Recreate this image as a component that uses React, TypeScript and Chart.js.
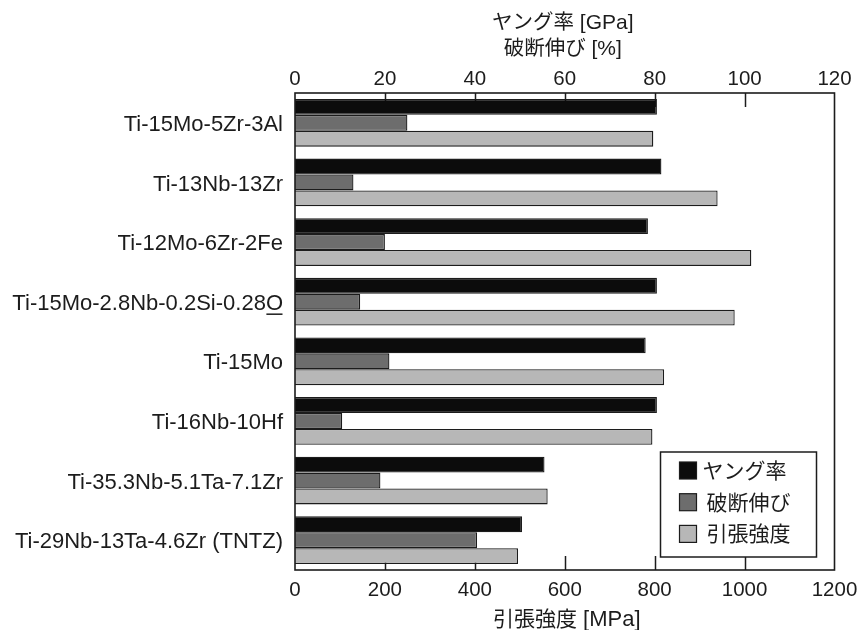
import React, { useEffect, useRef } from 'react';
import { Chart, registerables } from 'chart.js';

Chart.register(...registerables);

// ---- data ----
const alloys = [
  'Ti-15Mo-5Zr-3Al',
  'Ti-13Nb-13Zr',
  'Ti-12Mo-6Zr-2Fe',
  'Ti-15Mo-2.8Nb-0.2Si-0.28O',
  'Ti-15Mo',
  'Ti-16Nb-10Hf',
  'Ti-35.3Nb-5.1Ta-7.1Zr',
  'Ti-29Nb-13Ta-4.6Zr (TNTZ)',
];
const youngModulus = [80.5, 81.5, 78.5, 80.5, 78, 80.5, 55.5, 50.5]; // GPa
const elongation = [25, 13, 20, 14.5, 21, 10.5, 19, 40.5]; // %
const tensileStrength = [797, 940, 1015, 978, 821, 795, 562, 496]; // MPa
const seriesNames = ['ヤング率', '破断伸び', '引張強度'];
const topAxisTitle = ['ヤング率 [GPa]', '破断伸び [%]'];
const bottomAxisTitle = '引張強度 [MPa]';
const topTickStep = 20;
const bottomTickStep = 200;
const topMax = 120;
const bottomMax = 1200;

const colors = ['#0c0c0c', '#6d6d6d', '#b7b7b7'];
const INK = '#1c1c1c';
const SANS = '"Liberation Sans", Arial, sans-serif';
const CJK = '"Noto Sans CJK JP", "Noto Sans CJK SC", sans-serif';
const LABEL_SIZE = 22;

const CJK_RE = /[\u3000-\u30ff\u3400-\u9fff\uff00-\uffef]/;

function splitRuns(text: string) {
  const runs: { t: string; cjk: boolean }[] = [];
  for (const ch of text) {
    const c = CJK_RE.test(ch);
    const last = runs[runs.length - 1];
    if (last && last.cjk === c) last.t += ch;
    else runs.push({ t: ch, cjk: c });
  }
  return runs;
}

function drawMixed(
  ctx: CanvasRenderingContext2D,
  text: string,
  x: number,
  cy: number,
  align: 'center' | 'left',
  cjkSize: number,
  latinSize: number,
  latinFamily: string
) {
  const runs = splitRuns(text);
  const fontOf = (r: { cjk: boolean }) =>
    r.cjk ? `${cjkSize}px ${CJK}` : `${latinSize}px ${latinFamily}`;
  let total = 0;
  const widths = runs.map((r) => {
    ctx.font = fontOf(r);
    const w = ctx.measureText(r.t).width;
    total += w;
    return w;
  });
  let cx = align === 'center' ? x - total / 2 : x;
  const baseline = cy + 0.36 * cjkSize;
  ctx.textBaseline = 'alphabetic';
  ctx.textAlign = 'left';
  runs.forEach((r, i) => {
    ctx.font = fontOf(r);
    ctx.fillText(r.t, cx, baseline);
    cx += widths[i];
  });
}

const decorPlugin = {
  id: 'decor',
  beforeDatasetsDraw(chart: any) {
    const { ctx, chartArea } = chart;
    const top = chart.scales.xTop;
    const bot = chart.scales.xBottom;
    ctx.save();
    ctx.strokeStyle = INK;
    ctx.lineWidth = 1.5;
    ctx.beginPath();
    top.ticks.forEach((t: any) => {
      if (t.value <= 0 || t.value >= topMax) return;
      const px = Math.round(top.getPixelForValue(t.value)) + 0.5;
      ctx.moveTo(px, chartArea.top);
      ctx.lineTo(px, chartArea.top + 14);
    });
    bot.ticks.forEach((t: any) => {
      if (t.value <= 0 || t.value >= bottomMax) return;
      const px = Math.round(bot.getPixelForValue(t.value)) + 0.5;
      ctx.moveTo(px, chartArea.bottom);
      ctx.lineTo(px, chartArea.bottom - 14);
    });
    ctx.stroke();
    ctx.restore();
  },
  afterDatasetsDraw(chart: any) {
    const { ctx, chartArea } = chart;
    ctx.save();
    ctx.strokeStyle = INK;
    ctx.lineWidth = 1.6;
    ctx.strokeRect(
      chartArea.left,
      chartArea.top,
      chartArea.right - chartArea.left,
      chartArea.bottom - chartArea.top
    );
    ctx.restore();
  },
  afterDraw(chart: any) {
    const { ctx, chartArea } = chart;
    const yScale = chart.scales.y;
    const midX = (chartArea.left + chartArea.right) / 2;
    ctx.save();
    ctx.fillStyle = INK;

    // top axis title (two lines)
    drawMixed(ctx, topAxisTitle[0], midX - 2, 21.5, 'center', 20.5, 21, SANS);
    drawMixed(ctx, topAxisTitle[1], midX - 2, 47.5, 'center', 20.5, 21, SANS);
    // bottom axis title
    drawMixed(ctx, bottomAxisTitle, midX + 2, 618.5, 'center', 21, 22, SANS);

    // underline of the final "O" (oxygen) in label index 3
    const idx = alloys.findIndex((a) => a.endsWith('0.28O'));
    if (idx >= 0) {
      ctx.font = `${LABEL_SIZE}px ${SANS}`;
      const w = ctx.measureText('O').width;
      const right = chartArea.left - 12;
      const yPix = yScale.getPixelForTick(idx);
      ctx.strokeStyle = INK;
      ctx.lineWidth = 1.5;
      ctx.beginPath();
      ctx.moveTo(right - w + 0.5, yPix + 12.5);
      ctx.lineTo(right - 0.5, yPix + 12.5);
      ctx.stroke();
    }

    // legend box
    const bx = chartArea.right - 174;
    const by = chartArea.bottom - 118;
    const bw = 156;
    const bh = 105;
    ctx.fillStyle = '#ffffff';
    ctx.fillRect(bx, by, bw, bh);
    ctx.strokeStyle = INK;
    ctx.lineWidth = 1.5;
    ctx.strokeRect(bx, by, bw, bh);
    chart.data.datasets.forEach((ds: any, i: number) => {
      const cy = by + 18.5 + i * 31.7;
      ctx.fillStyle = ds.backgroundColor;
      ctx.fillRect(bx + 19, cy - 8.5, 17, 17);
      ctx.strokeStyle = INK;
      ctx.lineWidth = 1.2;
      ctx.strokeRect(bx + 19, cy - 8.5, 17, 17);
      ctx.fillStyle = INK;
      drawMixed(ctx, ds.label, bx + (i === 0 ? 42 : 46), cy, 'left', 21, 21, SANS);
    });
    ctx.restore();
  },
};

export default function App() {
  const ref = useRef<HTMLCanvasElement>(null);

  useEffect(() => {
    const canvas = ref.current;
    if (!canvas) return;
    const tickFont = { family: SANS, size: 20.5, lineHeight: 1 };
    const plain = (v: any) => String(v);
    const chart = new Chart(canvas, {
      type: 'bar',
      data: {
        labels: alloys,
        datasets: [
          {
            label: seriesNames[0],
            data: youngModulus,
            xAxisID: 'xTop',
            yAxisID: 'y',
            backgroundColor: colors[0],
            borderColor: INK,
            borderWidth: 1.3,
          },
          {
            label: seriesNames[1],
            data: elongation,
            xAxisID: 'xTop',
            yAxisID: 'y',
            backgroundColor: colors[1],
            borderColor: INK,
            borderWidth: 1.3,
          },
          {
            label: seriesNames[2],
            data: tensileStrength,
            xAxisID: 'xBottom',
            yAxisID: 'y',
            backgroundColor: colors[2],
            borderColor: INK,
            borderWidth: 1.3,
          },
        ],
      },
      options: {
        indexAxis: 'y',
        animation: false,
        responsive: false,
        devicePixelRatio: 1,
        layout: { padding: { left: 0, right: 24.5, top: 0, bottom: 0 } },
        plugins: { legend: { display: false }, tooltip: { enabled: false }, title: { display: false } },
        datasets: { bar: { categoryPercentage: 0.8, barPercentage: 1 } },
        scales: {
          y: {
            type: 'category',
            position: 'left',
            grid: { display: false, drawTicks: false },
            border: { display: false },
            ticks: {
              color: INK,
              font: { family: SANS, size: LABEL_SIZE, lineHeight: 1 },
              padding: 12,
              labelOffset: 2,
              autoSkip: false,
            },
            afterFit: (s: any) => {
              s.width = 295;
              s.paddingTop = 0;
              s.paddingBottom = 0;
            },
          },
          xBottom: {
            type: 'linear',
            axis: 'x',
            position: 'bottom',
            min: 0,
            max: bottomMax,
            grid: { display: false, drawTicks: false },
            border: { display: false },
            ticks: {
              stepSize: bottomTickStep,
              color: INK,
              font: tickFont,
              padding: 10,
              maxRotation: 0,
              minRotation: 0,
              autoSkip: false,
              callback: plain,
            },
            afterFit: (s: any) => {
              s.height = 60;
              s.paddingLeft = 0;
              s.paddingRight = 0;
            },
          },
          xTop: {
            type: 'linear',
            axis: 'x',
            position: 'top',
            min: 0,
            max: topMax,
            grid: { display: false, drawTicks: false },
            border: { display: false },
            ticks: {
              stepSize: topTickStep,
              color: INK,
              font: tickFont,
              padding: 3,
              maxRotation: 0,
              minRotation: 0,
              autoSkip: false,
              callback: plain,
            },
            afterFit: (s: any) => {
              s.height = 93;
              s.paddingLeft = 0;
              s.paddingRight = 0;
            },
          },
        },
      } as any,
      plugins: [decorPlugin],
    });
    return () => chart.destroy();
  }, []);

  return (
    <div style={{ position: 'fixed', left: 0, top: 0, width: 859, height: 630, background: '#ffffff' }}>
      <canvas ref={ref} width={859} height={630} style={{ display: 'block', width: 859, height: 630 }} />
    </div>
  );
}
